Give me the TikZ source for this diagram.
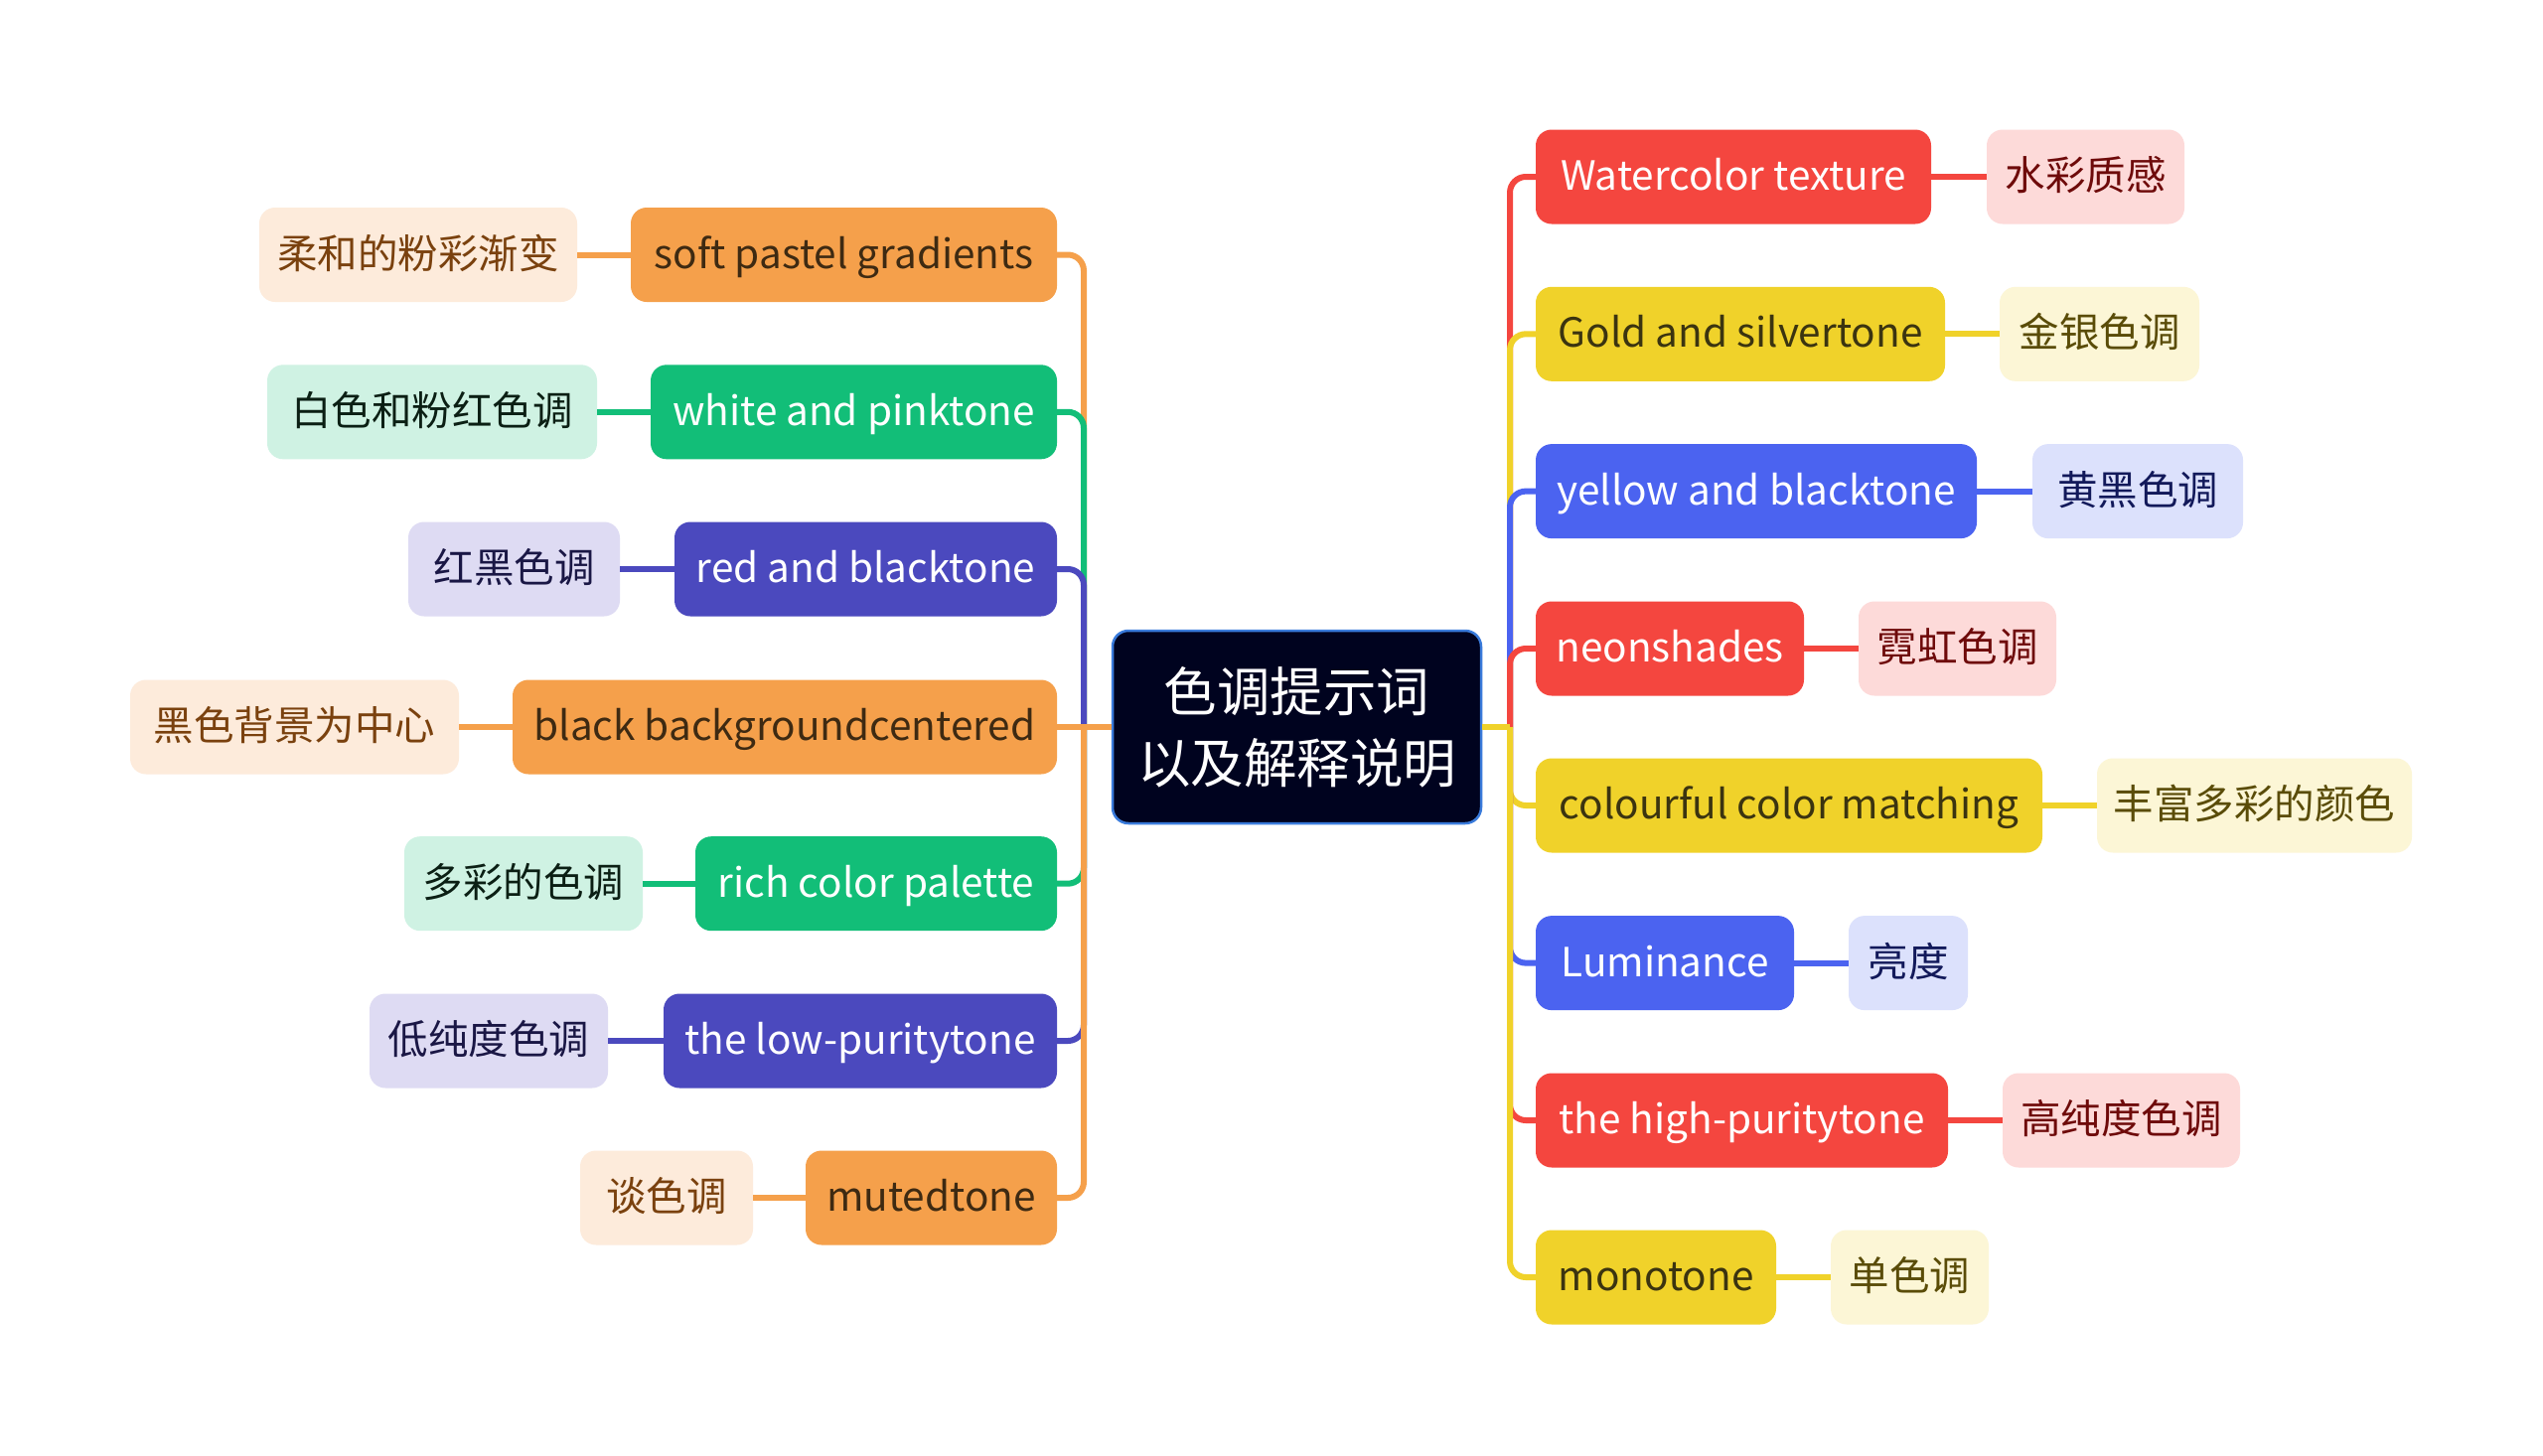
\documentclass[tikz,border=0pt]{standalone}
\usepackage{fontspec}
\setmainfont{Noto Sans CJK SC}
\definecolor{cRed}{HTML}{F4463F}
\definecolor{cRedL}{HTML}{FDDAD9}
\definecolor{cRedT}{HTML}{6E0A0A}
\definecolor{cGold}{HTML}{F0D22A}
\definecolor{cGoldL}{HTML}{FCF6D6}
\definecolor{cGoldT}{HTML}{3B3410}
\definecolor{cGoldGT}{HTML}{5A4C08}
\definecolor{cBlue}{HTML}{4B63F0}
\definecolor{cBlueL}{HTML}{DCE1FC}
\definecolor{cBlueT}{HTML}{12195A}
\definecolor{cGreen}{HTML}{12BE78}
\definecolor{cGreenL}{HTML}{CFF2E3}
\definecolor{cGreenT}{HTML}{0B1F14}
\definecolor{cOrange}{HTML}{F5A04B}
\definecolor{cOrangeL}{HTML}{FDEBDB}
\definecolor{cOrangeT}{HTML}{3E2A12}
\definecolor{cOrangeGT}{HTML}{7A410E}
\definecolor{cIndigo}{HTML}{4B49BE}
\definecolor{cIndigoL}{HTML}{DEDBF3}
\definecolor{cIndigoT}{HTML}{1A1745}
\definecolor{cCenter}{HTML}{00031F}
\definecolor{cCenterB}{HTML}{3A7BDB}
\begin{document}
\begin{tikzpicture}[x=1pt,y=-1pt,
  box/.style={rounded corners=16pt, minimum height=95pt, inner sep=0pt,
    text height=31pt, text depth=4pt, font=\fontsize{40.5}{48}\selectfont, anchor=center},
  redc/.style={box, fill=cRed, text=white},
  redg/.style={box, fill=cRedL, text=cRedT},
  goldc/.style={box, fill=cGold, text=cGoldT},
  goldg/.style={box, fill=cGoldL, text=cGoldGT},
  bluec/.style={box, fill=cBlue, text=white},
  blueg/.style={box, fill=cBlueL, text=cBlueT},
  greenc/.style={box, fill=cGreen, text=white},
  greeng/.style={box, fill=cGreenL, text=cGreenT},
  orangec/.style={box, fill=cOrange, text=cOrangeT},
  orangeg/.style={box, fill=cOrangeL, text=cOrangeGT},
  indigoc/.style={box, fill=cIndigo, text=white},
  indigog/.style={box, fill=cIndigoL, text=cIndigoT},
  lk/.style={line width=6pt, rounded corners=16pt},
  lred/.style={lk, draw=cRed},
  lgold/.style={lk, draw=cGold},
  lblue/.style={lk, draw=cBlue},
  lgreen/.style={lk, draw=cGreen},
  lorange/.style={lk, draw=cOrange},
  lindigo/.style={lk, draw=cIndigo},
  centerbox/.style={rounded corners=16pt, fill=cCenter, draw=cCenterB, line width=2.5pt,
    minimum width=371pt, minimum height=194pt, inner sep=0pt, text=white,
    align=center, font=\fontsize{53.5}{72}\selectfont}
]
\useasboundingbox[fill=white] (0,0) rectangle (2560,1465);

% centre
\node[centerbox] (c) at (1305.5,732) {色调提示词\\以及解释说明};

% right children
\node[redc,   minimum width=398pt] (r1) at (1745,178)   {Watercolor texture};
\node[goldc,  minimum width=412pt] (r2) at (1752,336.3) {Gold and silvertone};
\node[bluec,  minimum width=444pt] (r3) at (1768,494.6) {yellow and blacktone};
\node[redc,   minimum width=270pt] (r4) at (1681,653)   {neonshades};
\node[goldc,  minimum width=510pt] (r5) at (1801,811)   {colourful color matching};
\node[bluec,  minimum width=260pt] (r6) at (1676,969.6) {Luminance};
\node[redc,   minimum width=415pt] (r7) at (1753.5,1128) {the high-puritytone};
\node[goldc,  minimum width=242pt] (r8) at (1667,1286)  {monotone};

% right grandchildren
\node[redg,  minimum width=199pt] (g1) at (2099.5,178)   {水彩质感};
\node[goldg, minimum width=201pt] (g2) at (2113.5,336.3) {金银色调};
\node[blueg, minimum width=212pt] (g3) at (2152,494.6)   {黄黑色调};
\node[redg,  minimum width=199pt] (g4) at (1970.5,653)   {霓虹色调};
\node[goldg, minimum width=317pt] (g5) at (2269.5,811)   {丰富多彩的颜色};
\node[blueg, minimum width=120pt] (g6) at (1921,969.6)   {亮度};
\node[redg,  minimum width=239pt] (g7) at (2135.5,1128)  {高纯度色调};
\node[goldg, minimum width=159pt] (g8) at (1922.5,1286)  {单色调};

% left children
\node[orangec, minimum width=429pt] (l1) at (849.5,256.5) {soft pastel gradients};
\node[greenc,  minimum width=409pt] (l2) at (859.5,414.8) {white and pinktone};
\node[indigoc, minimum width=385pt] (l3) at (871.5,573)   {red and blacktone};
\node[orangec, minimum width=548pt] (l4) at (790,732)     {black backgroundcentered};
\node[greenc,  minimum width=364pt] (l5) at (882,889.7)   {rich color palette};
\node[indigoc, minimum width=396pt] (l6) at (866,1048)    {the low-puritytone};
\node[orangec, minimum width=253pt] (l7) at (937.5,1206)  {mutedtone};

% left grandchildren
\node[orangeg, minimum width=320pt] (m1) at (421,256.5)   {柔和的粉彩渐变};
\node[greeng,  minimum width=332pt] (m2) at (435,414.8)   {白色和粉红色调};
\node[indigog, minimum width=213pt] (m3) at (517.5,573)   {红黑色调};
\node[orangeg, minimum width=331pt] (m4) at (296.5,732)   {黑色背景为中心};
\node[greeng,  minimum width=240pt] (m5) at (527,889.7)   {多彩的色调};
\node[indigog, minimum width=240pt] (m6) at (492,1048)    {低纯度色调};
\node[orangeg, minimum width=174pt] (m7) at (671,1206)    {谈色调};

% trunk points
\coordinate (rt) at (1520,732);
\coordinate (lt) at (1091,732);

% right connectors (top to bottom)
\draw[lred]  (c.east) -- (rt); \draw[lred]  (rt) |- (r1.west);
\draw[lgold] (c.east) -- (rt); \draw[lgold] (rt) |- (r2.west);
\draw[lblue] (c.east) -- (rt); \draw[lblue] (rt) |- (r3.west);
\draw[lred]  (c.east) -- (rt); \draw[lred]  (rt) |- (r4.west);
\draw[lgold] (c.east) -- (rt); \draw[lgold] (rt) |- (r5.west);
\draw[lblue] (c.east) -- (rt); \draw[lblue] (rt) |- (r6.west);
\draw[lred]  (c.east) -- (rt); \draw[lred]  (rt) |- (r7.west);
\draw[lgold] (c.east) -- (rt); \draw[lgold] (rt) |- (r8.west);

% left connectors (top to bottom)
\draw[lorange] (c.west) -- (lt); \draw[lorange] (lt) |- (l1.east);
\draw[lgreen]  (c.west) -- (lt); \draw[lgreen]  (lt) |- (l2.east);
\draw[lindigo] (c.west) -- (lt); \draw[lindigo] (lt) |- (l3.east);
\draw[lorange] (c.west) -- (l4.east);
\draw[lgreen]  (c.west) -- (lt); \draw[lgreen]  (lt) |- (l5.east);
\draw[lindigo] (c.west) -- (lt); \draw[lindigo] (lt) |- (l6.east);
\draw[lorange] (c.west) -- (lt); \draw[lorange] (lt) |- (l7.east);

% child to grandchild
\draw[lred]  (r1.east) -- (g1.west);
\draw[lgold] (r2.east) -- (g2.west);
\draw[lblue] (r3.east) -- (g3.west);
\draw[lred]  (r4.east) -- (g4.west);
\draw[lgold] (r5.east) -- (g5.west);
\draw[lblue] (r6.east) -- (g6.west);
\draw[lred]  (r7.east) -- (g7.west);
\draw[lgold] (r8.east) -- (g8.west);
\draw[lorange] (l1.west) -- (m1.east);
\draw[lgreen]  (l2.west) -- (m2.east);
\draw[lindigo] (l3.west) -- (m3.east);
\draw[lorange] (l4.west) -- (m4.east);
\draw[lgreen]  (l5.west) -- (m5.east);
\draw[lindigo] (l6.west) -- (m6.east);
\draw[lorange] (l7.west) -- (m7.east);
\end{tikzpicture}
\end{document}
